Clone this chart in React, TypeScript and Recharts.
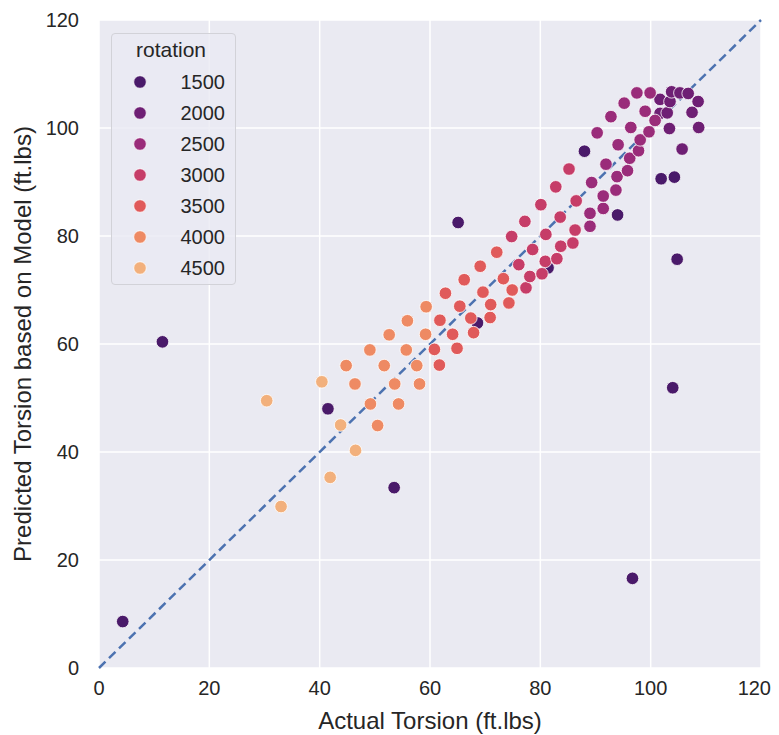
import React from 'react';
import { ScatterChart, Scatter, XAxis, YAxis, CartesianGrid, ReferenceLine, Legend } from 'recharts';

const FONT = '"Liberation Sans", Arial, sans-serif';
const TEXT = '#262626';

const rotations = [1500, 2000, 2500, 3000, 3500, 4000, 4500];
const rotationColors = ['#4a1a6a', '#6e1f74', '#9a2c7a', '#c63d68', '#e05a5a', '#ee8a63', '#f2b07c'];

const rot1500: [number, number][] = [
  [4.3, 8.6], [11.5, 60.4], [41.5, 48.0], [53.5, 33.4], [65.1, 82.5], [68.6, 63.9], [81.4, 74.1],
  [88.0, 95.7], [94.0, 83.9], [96.7, 16.6], [101.9, 90.6], [104.3, 90.9], [104.0, 51.9], [104.8, 75.7],
];
const rot2000: [number, number][] = [
  [101.7, 105.3], [101.7, 102.7], [103.0, 102.8], [103.5, 104.9], [103.8, 106.7], [105.3, 106.5],
  [106.8, 106.4], [108.6, 104.9], [107.5, 102.9], [108.7, 100.1], [103.4, 99.9], [105.7, 96.1],
];
const rot2500: [number, number][] = [
  [89.0, 81.8], [89.0, 84.2], [89.3, 89.9], [91.4, 85.1], [91.4, 87.4], [93.7, 88.5], [93.9, 91.0],
  [91.9, 93.3], [90.3, 99.1], [92.8, 102.1], [95.2, 104.6], [95.8, 92.1], [96.2, 94.4], [97.8, 95.8],
  [94.1, 96.9], [96.4, 100.1], [98.1, 97.8], [97.5, 106.5], [99.0, 103.1], [99.7, 99.3], [99.9, 106.5],
  [100.8, 101.4],
];
const rot3000: [number, number][] = [
  [74.8, 79.9], [76.1, 74.7], [77.2, 82.7], [77.4, 70.4], [78.1, 72.5], [78.6, 77.5], [80.3, 73.0],
  [80.9, 75.3], [81.0, 80.3], [80.1, 85.8], [82.8, 89.1], [83.0, 75.8], [83.6, 83.5], [83.7, 78.1],
  [85.9, 78.7], [86.3, 81.1], [85.2, 92.4], [86.5, 86.5],
];
const rot3500: [number, number][] = [
  [60.8, 59.0], [61.7, 56.1], [61.8, 64.4], [62.8, 69.4], [64.1, 61.8], [64.9, 59.2], [65.4, 67.0],
  [66.2, 71.9], [67.4, 64.8], [67.9, 62.1], [69.1, 74.4], [69.6, 69.6], [70.9, 64.9], [71.0, 67.3],
  [72.1, 77.0], [73.3, 72.1], [74.3, 67.6], [74.9, 70.0],
];
const rot4000: [number, number][] = [
  [44.8, 56.0], [46.4, 52.6], [49.1, 58.9], [49.2, 48.9], [50.5, 44.9], [51.7, 56.0], [52.6, 61.7],
  [53.6, 52.6], [54.3, 48.9], [55.7, 58.9], [55.9, 64.3], [57.6, 56.0], [58.1, 52.6], [59.2, 61.8],
  [59.3, 66.9],
];
const rot4500: [number, number][] = [
  [30.4, 49.5], [33.0, 29.9], [41.9, 35.3], [40.4, 53.0], [43.8, 45.0], [46.5, 40.3],
];

const seriesPoints = [rot1500, rot2000, rot2500, rot3000, rot3500, rot4000, rot4500];
const axisTicks = [0, 20, 40, 60, 80, 100, 120];
const diagonal = [{ x: 0, y: 0 }, { x: 120, y: 120 }];

const MARKER_R = 6.3;

const makeDot = (color: string) => (props: any) => (
  <circle cx={props.cx} cy={props.cy} r={MARKER_R} fill={color} stroke="#ffffff" strokeWidth={0.8} />
);

const XTick = (props: any) => {
  const { x, y, payload, index } = props;
  const isLast = index === axisTicks.length - 1;
  return (
    <text
      x={isLast ? x + 10 : x}
      y={y}
      dy="0.71em"
      textAnchor={isLast ? 'end' : 'middle'}
      fill={TEXT}
      fontSize={20}
      fontFamily={FONT}
    >
      {payload.value}
    </text>
  );
};

const LegendBox = () => (
  <div
    style={{
      width: 125,
      height: 252,
      boxSizing: 'border-box',
      border: '1px solid #d2d2d8',
      borderRadius: 4,
      background: 'rgba(234,234,242,0.8)',
      fontFamily: FONT,
    }}
  >
    <svg width={123} height={250} style={{ display: 'block' }}>
      <text x={59} y={15} textAnchor="middle" dominantBaseline="central" fontSize={21} fill={TEXT} fontFamily={FONT}>
        rotation
      </text>
      {rotations.map((r, i) => (
        <g key={r}>
          <circle cx={28} cy={48 + i * 31} r={MARKER_R} fill={rotationColors[i]} stroke="#fff" strokeWidth={0.8} />
          <text x={113} y={48 + i * 31} textAnchor="end" dominantBaseline="central" fontSize={20} fill={TEXT} fontFamily={FONT}>
            {r}
          </text>
        </g>
      ))}
    </svg>
  </div>
);

export default function App() {
  return (
    <div style={{ fontFamily: FONT }}>
      <style>{'html { overflow: hidden; } body { overflow: visible; }'}</style>
      <ScatterChart
        width={771}
        height={727}
        margin={{ top: 12, right: 18, left: 0, bottom: 0 }}
        style={{ overflow: 'visible' }}
      >
        <CartesianGrid fill="#eaeaf2" stroke="#ffffff" strokeWidth={1.5} />
        <XAxis
          type="number"
          dataKey="x"
          domain={[0, 120]}
          ticks={axisTicks}
          axisLine={false}
          tickLine={false}
          tickSize={0}
          tickMargin={13}
          height={67}
          tick={<XTick />}
          label={{ value: 'Actual Torsion (ft.lbs)', position: 'insideBottom', offset: 6, style: { fill: TEXT, fontSize: 24, fontFamily: FONT } }}
        />
        <YAxis
          type="number"
          dataKey="y"
          domain={[0, 120]}
          ticks={axisTicks}
          axisLine={false}
          tickLine={false}
          tickSize={0}
          tickMargin={20}
          width={91}
          tick={{ fill: TEXT, fontSize: 20, fontFamily: FONT }}
          label={{
            value: 'Predicted Torsion based on Model (ft.lbs)',
            angle: -90,
            position: 'insideLeft',
            offset: 14,
            style: { textAnchor: 'middle', fill: TEXT, fontSize: 24, fontFamily: FONT },
          }}
        />
        <Legend
          layout="vertical"
          align="center"
          verticalAlign="middle"
          content={() => <LegendBox />}
          wrapperStyle={{ left: 103, top: 25, width: 125, height: 252 }}
        />
        {rotations.map((r, i) => (
          <Scatter
            key={r}
            name={String(r)}
            data={seriesPoints[i].map(([x, y]) => ({ x, y }))}
            fill={rotationColors[i]}
            shape={makeDot(rotationColors[i])}
            isAnimationActive={false}
          />
        ))}
        <ReferenceLine
          segment={diagonal}
          stroke="#4c72b0"
          strokeWidth={2.5}
          strokeDasharray="9 5"
          ifOverflow="visible"
        />
      </ScatterChart>
    </div>
  );
}
